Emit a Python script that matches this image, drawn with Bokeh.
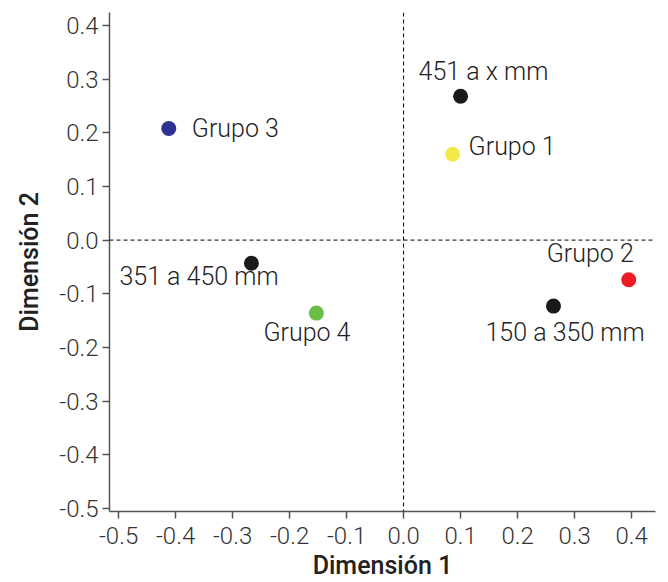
from bokeh.plotting import figure
from bokeh.models import Span, FixedTicker, ColumnDataSource, Range1d, PrintfTickFormatter
from bokeh.core.properties import value
from bokeh.embed import file_html
from bokeh.resources import INLINE

labels = ["Grupo 3", "451 a x mm", "Grupo 1", "351 a 450 mm", "Grupo 4", "150 a 350 mm", "Grupo 2"]
dim1 = [-0.412, 0.100, 0.086, -0.267, -0.153, 0.263, 0.395]
dim2 = [0.208, 0.268, 0.160, -0.043, -0.136, -0.123, -0.074]
colors = ["#2e3192", "#1a1a1a", "#f3ea4a", "#1a1a1a", "#6abd45", "#1a1a1a", "#ed1c24"]
label_dx = [23, -42, 16, -132, -53, -68, -82]
label_dy = [0, -25, -8, 13, 19, 26, -26]

x_ticks = [-0.5, -0.4, -0.3, -0.2, -0.1, 0.0, 0.1, 0.2, 0.3, 0.4]
y_ticks = [-0.5, -0.4, -0.3, -0.2, -0.1, 0.0, 0.1, 0.2, 0.3, 0.4]

FONT = "Roboto Light, Roboto"
TITLE_FONT = "Roboto Medium, Roboto"

src = ColumnDataSource(dict(x=dim1, y=dim2, c=colors, t=labels, dx=label_dx, dy=label_dy))

p = figure(width=660, height=582, output_backend="svg", toolbar_location=None,
           x_range=Range1d(-0.516, 0.442), y_range=Range1d(-0.5056, 0.424),
           min_border_left=109, min_border_right=5, min_border_top=12, min_border_bottom=65)
p.grid.visible = False
p.outline_line_color = None

p.add_layout(Span(location=0, dimension="height", line_color="black", line_dash="4 3", line_width=1))
p.add_layout(Span(location=0, dimension="width", line_color="black", line_dash="4 3", line_width=1))

p.scatter("x", "y", source=src, size=15, fill_color="c", line_color=None)
p.text("x", "y", text="t", source=src, x_offset="dx", y_offset="dy",
       text_font=value(FONT), text_font_size="25px", text_color="#222222",
       text_baseline="middle", text_align="left")

for ax, ticks in ((p.xaxis, x_ticks), (p.yaxis, y_ticks)):
    ax.ticker = FixedTicker(ticks=ticks)
    ax.formatter = PrintfTickFormatter(format="%.1f")
    ax.axis_line_color = "#555555"
    ax.axis_line_width = 1.5
    ax.major_tick_line_color = "#555555"
    ax.major_tick_line_width = 1.5
    ax.major_tick_out = 7
    ax.major_tick_in = 0
    ax.minor_tick_line_color = None
    ax.major_label_text_font = FONT
    ax.major_label_text_font_size = "24px"
    ax.major_label_text_color = "#333333"
    ax.axis_label_text_font = TITLE_FONT
    ax.axis_label_text_font_size = "25px"
    ax.axis_label_text_font_style = "normal"
    ax.axis_label_text_color = "#222222"

p.xaxis.axis_label = "Dimensión 1"
p.yaxis.axis_label = "Dimensión 2"
p.xaxis.major_label_standoff = 8
p.yaxis.major_label_standoff = 4
p.xaxis.axis_label_standoff = 4
p.yaxis.axis_label_standoff = 12

open("out.html", "w").write(file_html(p, INLINE))
